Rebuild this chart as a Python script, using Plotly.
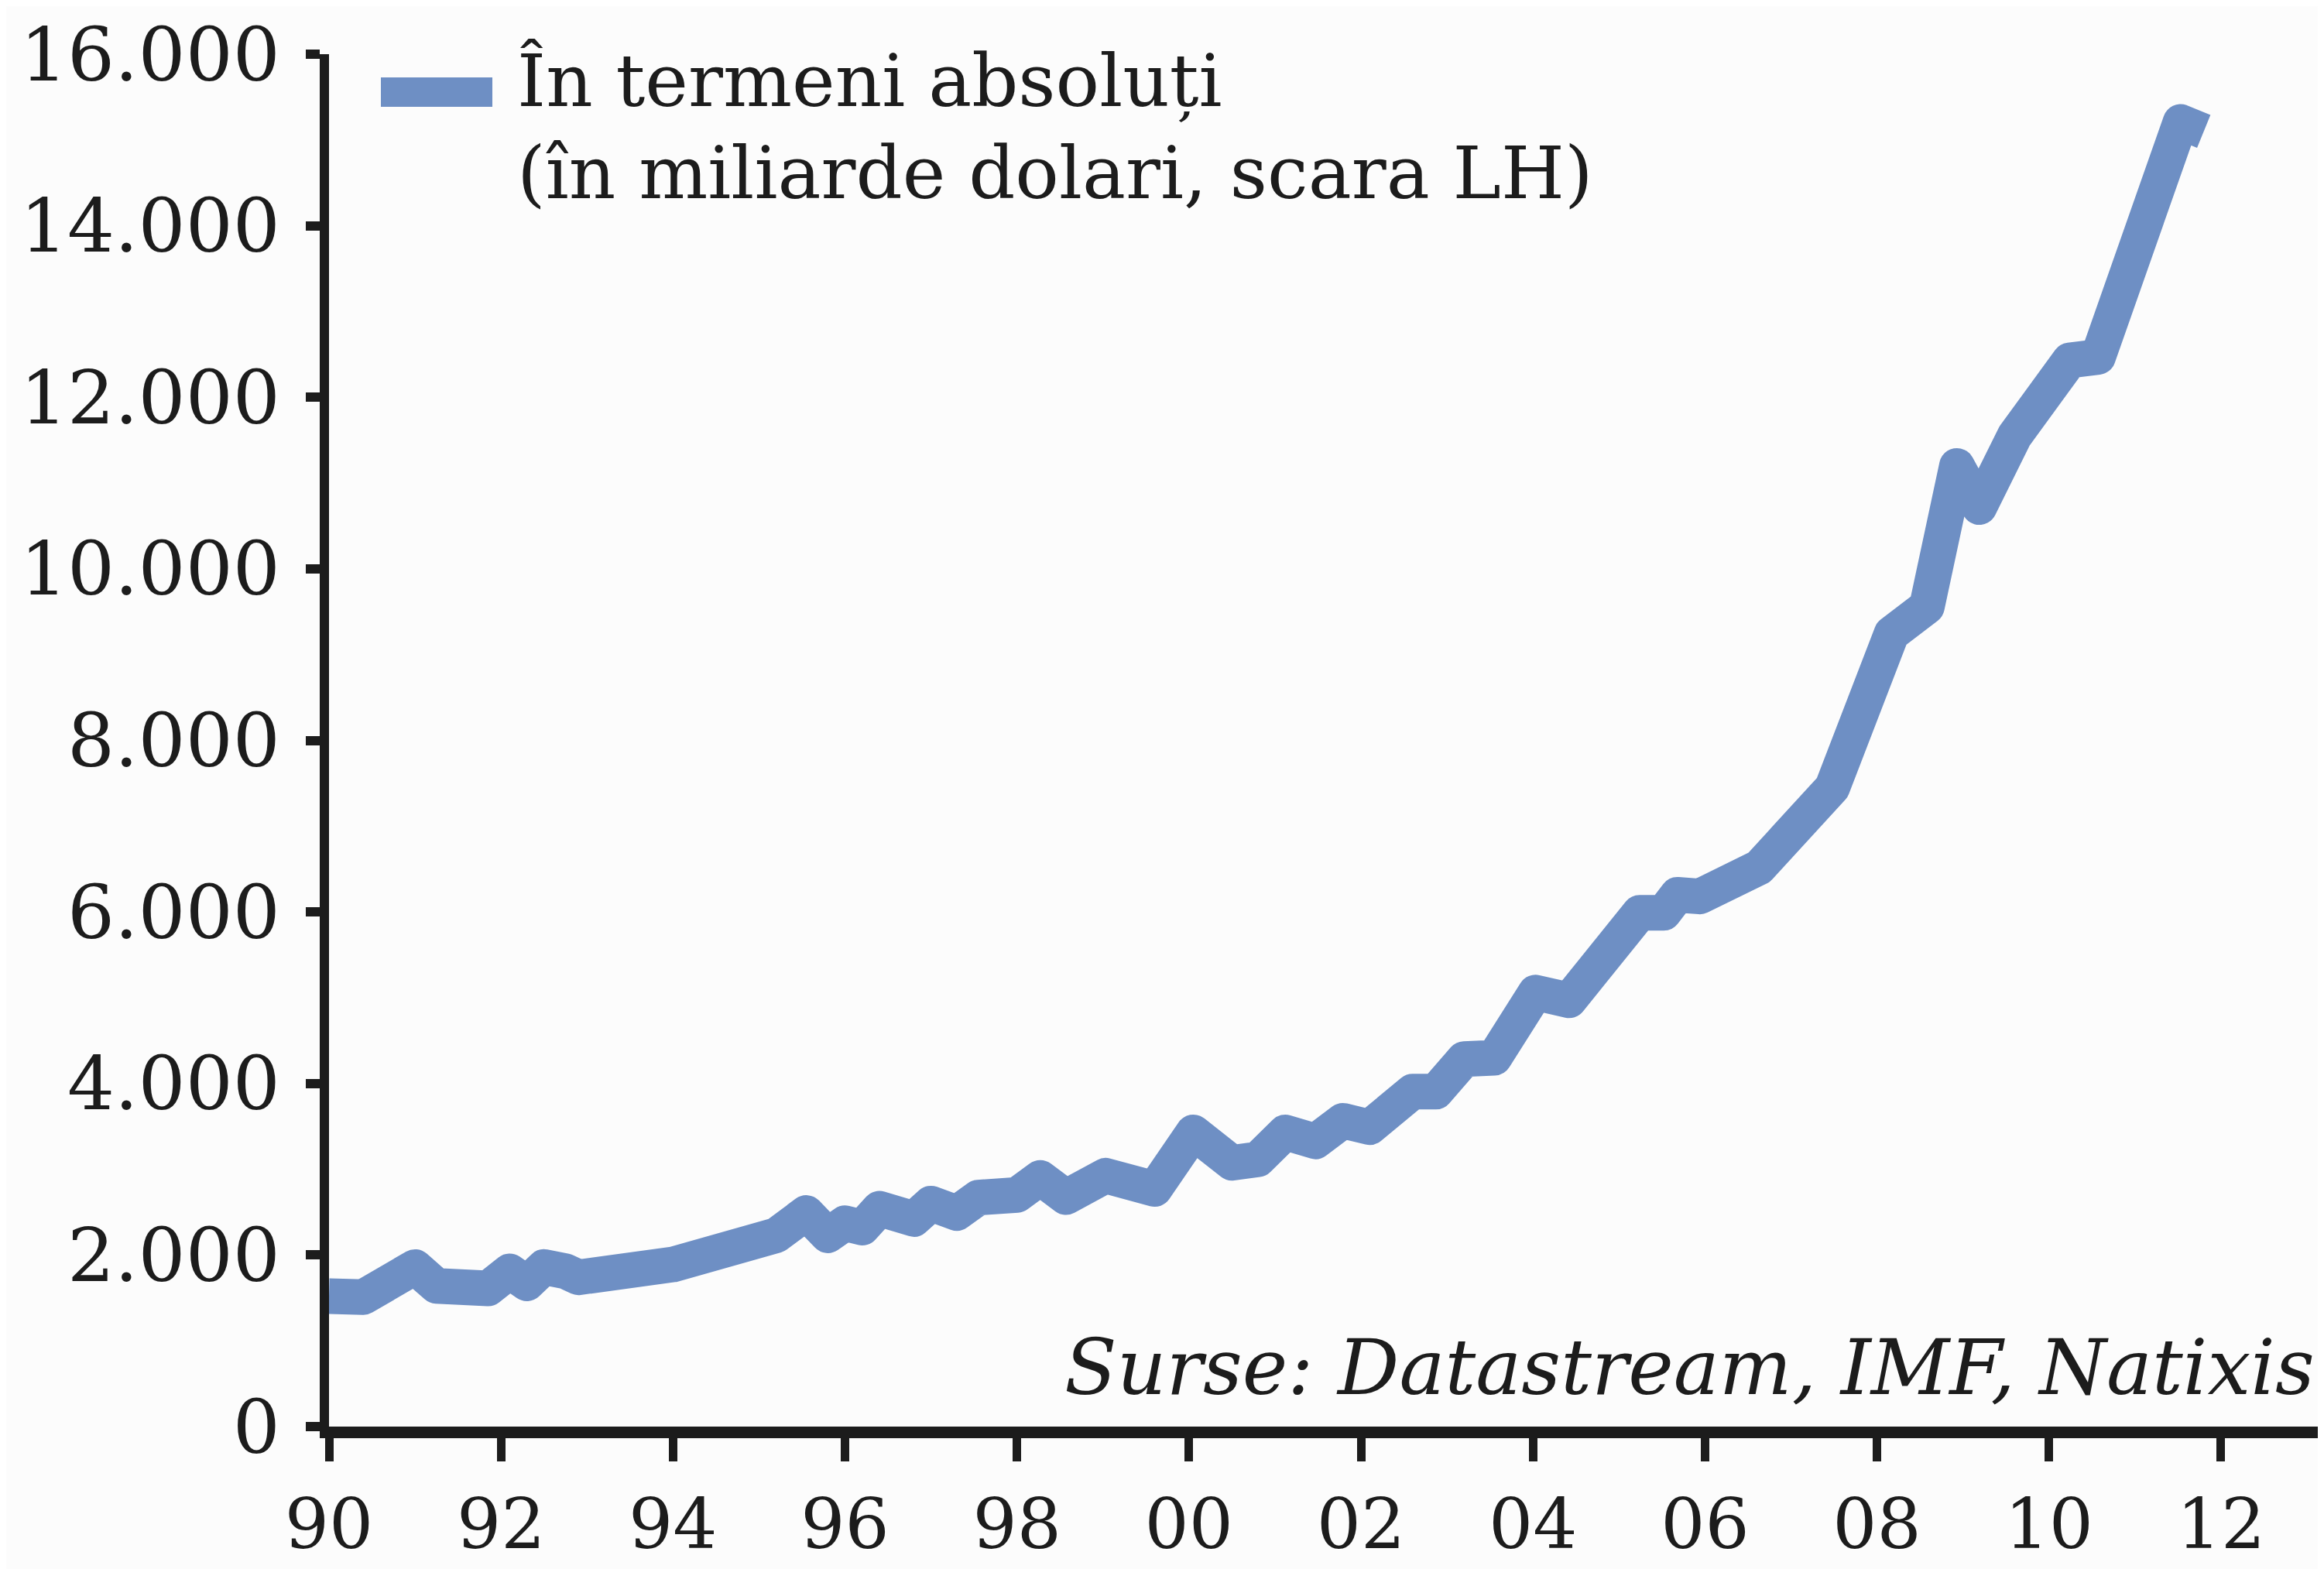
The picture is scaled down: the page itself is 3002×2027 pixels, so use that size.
import plotly.graph_objects as go

# Data (decimal years, billions USD)
years = [1990.0, 1990.4, 1991.0, 1991.25, 1991.85, 1992.1, 1992.3, 1992.5, 1992.75, 1992.9,
         1994.0, 1995.2, 1995.55, 1995.8, 1996.0, 1996.2, 1996.4, 1996.8, 1997.0, 1997.3,
         1997.55, 1998.0, 1998.27, 1998.57, 1999.03, 1999.6, 2000.05, 2000.5, 2000.8, 2001.12,
         2001.47, 2001.79, 2002.1, 2002.6, 2002.87, 2003.2, 2003.55, 2004.03, 2004.42, 2005.24,
         2005.52, 2005.68, 2005.94, 2006.63, 2007.48, 2008.17, 2008.58, 2008.93, 2009.19, 2009.6,
         2010.24, 2010.57, 2011.53, 2011.8]
values = [1520, 1510, 1860, 1640, 1610, 1810, 1670, 1860, 1810, 1740,
          1890, 2230, 2490, 2230, 2370, 2320, 2540, 2420, 2600, 2490,
          2670, 2700, 2900, 2675, 2925, 2770, 3430, 3075, 3115, 3430,
          3325, 3565, 3490, 3905, 3905, 4285, 4300, 5060, 4970, 5990,
          5990, 6200, 6180, 6520, 7450, 9245, 9560, 11200, 10720, 11550,
          12430, 12470, 15210, 15100]

x_tickvals = [1990, 1992, 1994, 1996, 1998, 2000, 2002, 2004, 2006, 2008, 2010, 2012]
x_ticktext = ["90", "92", "94", "96", "98", "00", "02", "04", "06", "08", "10", "12"]
y_tickvals = [0, 2000, 4000, 6000, 8000, 10000, 12000, 14000, 16000]
y_ticktext = ["0", "2.000", "4.000", "6.000", "8.000", "10.000", "12.000", "14.000", "16.000"]

series_name = "În termeni absoluți"
series_sub = "(în miliarde dolari, scara LH)"
source_text = "Surse: Datastream, IMF, Natixis"

BLUE = "#6E8FC4"
INK = "#1c1c1c"
BG = "#FCFCFC"
FONT = "DejaVu Serif"

W, H = 3002, 2027
ML, MR, MT, MB = 417, 0, 62, 192

fig = go.Figure()
fig.add_trace(go.Scatter(x=years, y=values, mode="lines",
                         line=dict(color=BLUE, width=46), showlegend=False,
                         name=series_name))

plot_w = W - ML - MR
plot_h = H - MT - MB

def px_x(px):
    return (px - ML) / plot_w

def px_y(py):
    return (H - MB - py) / plot_h

# legend swatch + text
fig.add_shape(type="line", xref="paper", yref="paper",
              x0=px_x(484), x1=px_x(628), y0=px_y(111), y1=px_y(111),
              line=dict(color=BLUE, width=38))
fig.add_annotation(xref="paper", yref="paper", x=px_x(658), y=px_y(96),
                   xanchor="left", yanchor="middle", showarrow=False,
                   text=series_name, font=dict(family=FONT, size=94, color=INK))
fig.add_annotation(xref="paper", yref="paper", x=px_x(658), y=px_y(216),
                   xanchor="left", yanchor="middle", showarrow=False,
                   text=series_sub, font=dict(family=FONT, size=94, color=INK))
# source
fig.add_annotation(xref="paper", yref="paper", x=px_x(2984), y=px_y(1758),
                   xanchor="right", yanchor="middle", showarrow=False,
                   text="<i>" + source_text + "</i>",
                   font=dict(family=FONT, size=99, color=INK))

fig.update_layout(
    width=W, height=H,
    margin=dict(l=ML, r=MR, t=MT, b=MB),
    paper_bgcolor=BG, plot_bgcolor=BG,
    font=dict(family=FONT, color=INK),
    xaxis=dict(range=[1990, 2013.27], tickvals=x_tickvals, ticktext=x_ticktext,
               showgrid=False, zeroline=False, showline=True, linecolor=INK, linewidth=15,
               ticks="outside", ticklen=30, tickwidth=11, tickcolor=INK,
               tickfont=dict(family=FONT, size=90, color=INK), ticklabelstandoff=4),
    yaxis=dict(range=[0, 16000], tickvals=y_tickvals, ticktext=y_ticktext,
               showgrid=False, zeroline=False, showline=True, linecolor=INK, linewidth=12,
               ticks="outside", ticklen=18, tickwidth=12, tickcolor=INK,
               tickfont=dict(family=FONT, size=96, color=INK), ticklabelstandoff=14),
)

fig.write_html("out.html",
               post_script="document.querySelectorAll('.js-line').forEach(function(e){e.style.strokeLinejoin='round';});")
